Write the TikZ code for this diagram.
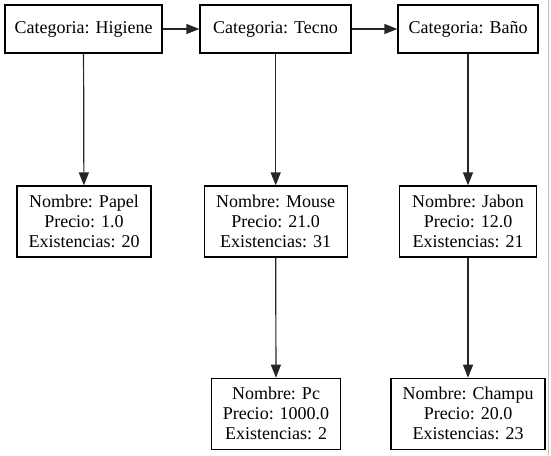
\documentclass[tikz,border=0pt]{standalone}
\usepackage{fontspec}
\setmainfont{Liberation Serif}
\usetikzlibrary{arrows.meta}
\begin{document}
\begin{tikzpicture}[x=1pt,y=-1pt,
        caja/.style={draw,line width=1.2pt,minimum height=48pt,inner sep=0pt,font=\fontsize{18}{20}\selectfont},
        prod/.style={draw,line width=1.2pt,minimum height=71pt,inner sep=0pt,align=center,font=\fontsize{18}{20}\selectfont},
        flecha/.style={line width=1.2pt,black!85,-{Triangle[length=13pt,width=10pt]}}]
            \useasboundingbox (0,0) rectangle (551,455);
            \node[caja,minimum width=157pt] (higiene) at (83.5,29) {Categoria: Higiene};
            \node[caja,minimum width=151pt] (tecno) at (275.5,29) {Categoria: Tecno};
            \node[caja,minimum width=140pt] (bano) at (468,29) {Categoria: Baño};
            \draw[flecha] (higiene) to (tecno);
            \draw[flecha] (tecno) to (bano);
            \node[prod,minimum width=134pt] (papel) at (84,221.5) {Nombre: Papel\\Precio: 1.0\\Existencias: 20};
            \node[prod,minimum width=143pt] (mouse) at (275.7,221.5) {Nombre: Mouse\\Precio: 21.0\\Existencias: 31};
            \node[prod,minimum width=137pt] (jabon) at (468,221.5) {Nombre: Jabon\\Precio: 12.0\\Existencias: 21};
            \draw[flecha] (higiene) to (papel);
            \draw[flecha] (tecno.south -| mouse) to (mouse);
            \draw[flecha] (bano) to (jabon);
            \node[prod,minimum width=129pt] (pc) at (276,413.8) {Nombre: Pc\\Precio: 1000.0\\Existencias: 2};
            \node[prod,minimum width=154pt] (champu) at (468,413.8) {Nombre: Champu\\Precio: 20.0\\Existencias: 23};
            \draw[flecha] (mouse) to (pc);
            \draw[flecha] (jabon) to (champu);
            \draw[gray!50,line width=1.5pt] (548.5,0) -- (548.5,455);
        \end{tikzpicture}
\end{document}
